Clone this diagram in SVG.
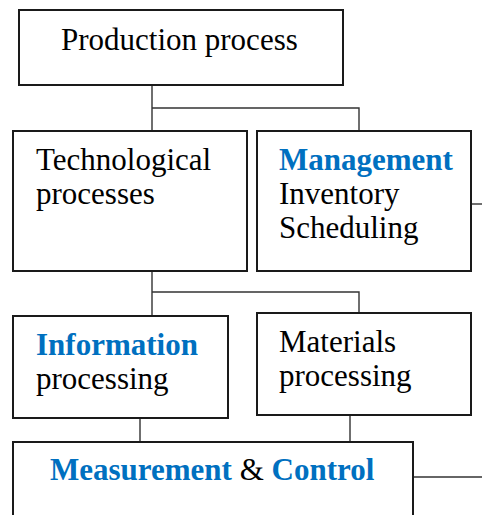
<svg xmlns="http://www.w3.org/2000/svg" width="482" height="515" viewBox="0 0 482 515">
<style>
.box{fill:#fff;stroke:#1a1a1a;stroke-width:2}
.t{font-family:"Liberation Serif","Times New Roman",serif;font-size:31px;fill:#000}
.b{font-weight:bold;fill:#0070C0}
.c{fill:none;stroke:#333;stroke-width:1.4}
</style>
<rect width="482" height="515" fill="#fff"/>
<g id="connectors">
<path class="c" d="M152 85V131M152 108H359V131"/>
<path class="c" d="M471 204H482"/>
<path class="c" d="M152 271V316M152 292H359V313"/>
<path class="c" d="M140 418V442M350 415V442"/>
<path class="c" d="M413 477H482"/>
</g>
<g id="production">
<rect class="box" x="19" y="10" width="324" height="75"/>
<text class="t" x="61" y="50">Production process</text>
</g>
<g id="technological">
<rect class="box" x="13" y="131" width="234" height="140"/>
<text class="t" x="36" y="170">Technological</text>
<text class="t" x="36" y="204">processes</text>
</g>
<g id="management">
<rect class="box" x="257" y="131" width="214" height="140"/>
<text class="t b" x="279" y="170">Management</text>
<text class="t" x="279" y="204">Inventory</text>
<text class="t" x="279" y="238">Scheduling</text>
</g>
<g id="information">
<rect class="box" x="13" y="316" width="215" height="102"/>
<text class="t b" x="36" y="355">Information</text>
<text class="t" x="36" y="389">processing</text>
</g>
<g id="materials">
<rect class="box" x="257" y="313" width="214" height="102"/>
<text class="t" x="279" y="352">Materials</text>
<text class="t" x="279" y="386">processing</text>
</g>
<g id="measurement">
<rect class="box" x="13" y="442" width="400" height="90"/>
<text class="t" x="50" y="480"><tspan class="b">Measurement</tspan> &amp; <tspan class="b">Control</tspan></text>
</g>
</svg>
